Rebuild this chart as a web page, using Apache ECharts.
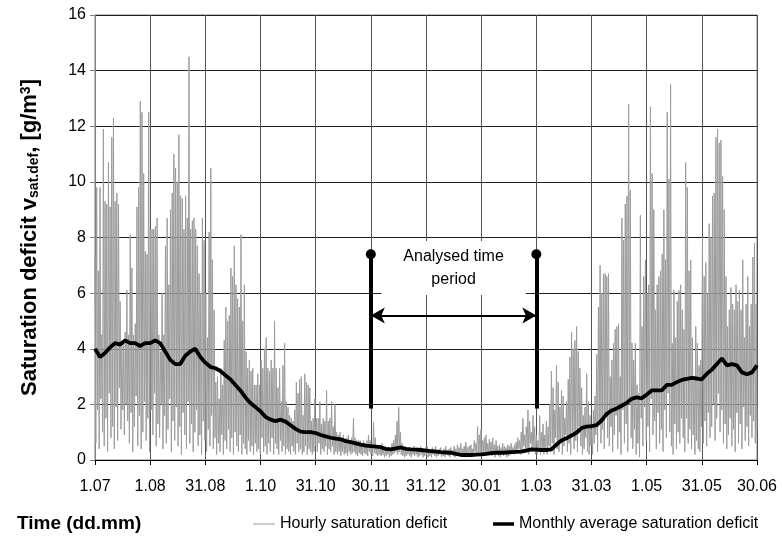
<!DOCTYPE html>
<html><head><meta charset="utf-8">
<script src="https://cdn.jsdelivr.net/npm/echarts@6/dist/echarts.min.js"></script>
<style>html,body{margin:0;padding:0;background:#fff}#c{width:782px;height:538px}</style>
</head><body><div id="c"></div>
<script>
// x tick labels (one per month, evenly spaced)
const tickLabels = ['1.07','1.08','31.08','1.10','31.10','30.11','31.12','30.01','1.03','31.03','1.05','31.05','30.06'];

// daily peaks of the hourly saturation deficit (g/m3)
const hourlyPeaks = [
 7.4,9.8,6.8,9.8,4.5,11.9,9.3,9.2,10.7,9.1,
 11.6,12.3,9.3,9.6,9.2,5.7,4.2,4.3,4.6,6.1,
 4.5,8.1,6.9,4.5,4.9,9.1,9.8,12.9,12.5,10.3,
 7.5,7.4,12.5,8.3,8.3,8.3,8.4,8.7,4.5,3.9,
 6.0,4.5,7.7,8.7,6.3,9.0,9.6,11.0,10.5,10.0,
 11.7,9.5,9.4,8.3,9.5,8.7,14.5,8.3,8.6,8.7,
 8.3,7.7,6.7,6.0,8.7,7.9,6.0,4.4,8.2,10.5,
 7.2,5.4,2.8,3.0,2.2,3.3,2.7,4.3,5.5,5.0,
 5.2,6.9,6.6,7.7,6.3,5.8,5.5,8.1,5.0,6.3,
 3.9,3.3,3.6,3.2,3.3,2.7,2.7,3.1,2.7,3.6,
 3.3,4.0,4.4,3.3,
 3.2,3.6,3.3,5.0,3.3,2.6,3.3,2.1,3.4,4.2,2.1,1.9,1.6,1.5,1.4,1.8,2.8,2.4,2.9,3.0,1.6,3.1,2.8,2.7,2.6,1.4,1.5,
 2.2,1.5,1.5,2.1,1.3,1.5,1.4,2.5,1.4,1.5,
 2.1,1.2,2.0,1.0,0.9,1.0,0.8,0.9,0.7,0.8,
 0.9,0.7,0.8,1.5,0.8,0.7,0.7,0.7,0.6,0.7,
 0.6,0.7,0.9,0.7,0.6,1.35,0.8,0.45,0.45,0.4,
 0.6,0.35,0.45,0.4,0.45,0.45,0.6,0.7,0.9,1.4,
 1.9,1.0,0.6,0.4,0.35,
 0.4,0.45,0.35,0.4,0.5,0.4,
 0.45,0.4,0.5,0.35,0.4,0.45,0.5,0.4,0.35,0.45,0.4,0.5,
 0.35,0.4,0.45,0.3,0.4,0.5,0.35,0.4,0.45,0.35,0.5,0.4,
 0.55,0.45,0.6,0.4,0.5,0.65,0.45,0.5,0.55,0.4,0.7,0.6,
 1.2,0.9,1.1,0.7,0.8,0.9,0.6,0.75,0.65,0.8,0.55,0.7,
 0.5,0.55,0.45,0.6,0.5,0.45,0.55,0.5,0.6,0.45,0.55,0.65,
 0.8,0.7,1.0,1.5,0.9,1.2,1.8,1.4,1.0,1.6,1.2,
 0.9,0.7,1.6,1.0,1.3,0.9,1.4,1.2,2.0,3.2,2.6,1.8,3.4,2.8,1.9,2.5,2.3,1.5,2.1,2.9,
 3.7,4.6,4.0,4.3,4.8,3.9,3.3,2.6,1.6,1.9,3.1,2.1,1.6,1.1,1.8,2.3,3.8,5.5,7.0,6.0,6.7,6.7,6.6,
 6.7,3.0,3.6,4.2,4.7,4.8,4.9,3.0,8.7,7.9,
 9.2,9.5,12.8,9.7,4.2,3.6,4.2,2.7,2.4,8.8,
 4.8,6.6,7.2,6.0,6.3,12.7,10.3,9.0,5.4,6.3,
 6.6,6.8,7.4,9.0,7.2,12.5,10.1,13.5,4.2,6.1,
 4.4,5.7,6.1,6.3,
 5.4,4.7,10.7,9.8,6.8,7.2,4.4,3.0,4.8,4.2,
 3.4,3.6,8.0,6.6,7.1,6.0,8.5,8.0,9.5,9.6,
 11.6,11.9,11.4,11.5,10.2,9.0,6.6,4.8,5.4,6.2,
 5.6,5.4,6.3,5.7,6.1,5.4,7.2,4.4,5.6,6.6,
 4.8,5.6,7.3,7.8,5.6
];

// nightly minima of the hourly saturation deficit (g/m3)
const hourlyTroughs = [
 0.6,1.8,0.4,2.2,1.0,0.5,1.5,0.3,2.4,0.8,
 1.2,0.4,1.9,0.7,2.6,1.1,1.8,0.9,2.0,1.4,
 0.6,1.7,0.3,1.2,2.3,0.5,1.6,0.4,1.0,2.1,
 0.7,1.5,0.3,1.8,0.9,2.4,0.5,1.3,0.8,2.0,
 0.4,1.6,0.6,1.1,2.2,0.3,1.4,0.7,1.9,0.5,
 1.2,0.2,1.7,0.9,0.4,2.1,0.6,1.3,0.3,1.0,
 1.8,0.5,0.9,0.2,1.4,0.7,0.3,1.1,0.5,1.6,
 0.4,0.8,0.2,0.6,0.3,0.9,0.2,0.7,0.4,1.1,
 0.3,0.8,0.2,1.0,0.5,0.3,0.9,0.2,0.6,0.4,
 0.2,0.7,0.3,0.5,0.2,0.6,0.3,0.4,0.2,0.8,
 0.3,0.5,0.2,0.6,
 0.3,0.8,0.2,0.6,0.4,0.2,0.7,0.3,0.5,0.2,0.4,0.3,0.2,0.5,0.3,0.2,0.6,0.3,0.4,0.2,0.3,0.5,0.2,0.4,0.3,0.2,0.3,
 0.5,0.3,0.6,0.2,0.4,0.3,0.5,0.2,0.4,0.3,
 0.5,0.2,0.3,0.2,0.3,0.15,0.3,0.2,0.25,0.15,
 0.3,0.2,0.25,0.3,0.2,0.15,0.25,0.2,0.15,0.25,
 0.2,0.15,0.3,0.2,0.15,0.25,0.2,0.15,0.2,0.15,
 0.2,0.1,0.15,0.2,0.1,0.15,0.2,0.25,0.3,0.2,
 0.3,0.2,0.15,0.1,0.15,
 0.2,0.15,0.1,0.2,0.15,0.2,0.1,0.15,0.2,0.1,
 0.15,0.2,0.1,0.15,0.1,0.2,0.15,0.1,0.15,0.2,
 0.1,0.15,0.1,0.2,0.15,0.1,0.2,0.15,0.1,0.15,
 0.2,0.25,0.15,0.2,0.1,0.2,0.15,0.25,0.2,0.15,
 0.3,0.2,0.25,0.15,0.2,0.3,0.15,0.2,0.25,0.2,
 0.15,0.2,0.1,0.2,0.15,0.1,0.2,0.15,0.2,0.1,
 0.15,0.2,0.3,0.2,0.35,0.25,0.4,0.2,0.3,0.5,
 0.3,0.4,0.2,0.6,0.3,0.4,0.2,
 0.2,0.3,0.2,0.4,0.2,0.3,0.2,0.5,0.3,0.6,0.2,0.8,0.4,0.3,0.7,0.2,0.5,0.9,0.3,0.6,
 0.2,1.0,0.4,0.7,0.3,1.2,0.5,0.2,0.4,0.8,0.3,0.2,0.5,0.2,0.6,0.9,0.3,1.4,0.6,1.1,0.4,1.6,0.8,
 0.5,1.2,0.3,0.9,1.6,0.4,1.0,0.2,1.8,0.6,
 1.3,0.3,2.0,0.8,0.4,1.1,0.2,0.6,0.1,1.5,
 0.5,1.9,0.7,1.2,0.3,2.2,0.9,1.4,0.4,1.7,
 0.6,1.1,0.3,1.8,0.8,2.4,1.0,0.5,0.2,1.3,
 0.4,1.0,0.6,1.5,
 0.8,0.3,1.5,0.6,1.1,0.4,0.9,0.2,0.7,0.4,
 0.3,1.2,0.6,1.4,0.5,1.7,0.8,1.2,2.0,0.7,
 1.5,2.4,1.0,1.8,0.6,1.3,0.4,0.9,1.5,0.5,
 1.1,0.3,1.7,0.6,1.3,0.4,1.9,0.7,1.2,0.5,
 1.6,0.8,1.4,0.6,1.1
];

// monthly (moving) average saturation deficit, evenly spaced from 1.07 to 30.06
const monthlyAverage = [
 4.0,3.7,3.85,4.05,4.2,4.15,4.3,4.2,4.2,4.1,
 4.2,4.2,4.3,4.2,3.9,3.6,3.45,3.45,3.75,3.9,
 4.0,3.7,3.5,3.35,3.3,3.2,3.05,2.9,2.7,2.5,
 2.25,2.05,1.9,1.75,1.55,1.45,1.4,1.45,1.38,1.25,
 1.12,1.02,1.0,1.0,0.97,0.9,0.85,0.8,0.77,0.74,
 0.68,0.64,0.6,0.55,0.52,0.5,0.48,0.46,0.4,0.38,
 0.42,0.45,0.4,0.38,0.37,0.36,0.34,0.32,0.3,0.28,
 0.27,0.26,0.22,0.18,0.18,0.18,0.19,0.2,0.22,0.25,
 0.26,0.26,0.27,0.28,0.29,0.3,0.34,0.38,0.37,0.36,
 0.36,0.38,0.55,0.7,0.78,0.88,0.98,1.15,1.2,1.22,
 1.25,1.42,1.65,1.78,1.85,1.95,2.05,2.2,2.25,2.22,
 2.35,2.5,2.5,2.5,2.7,2.7,2.8,2.88,2.92,2.95,
 2.93,2.9,3.1,3.25,3.45,3.65,3.4,3.45,3.4,3.15,
 3.08,3.15,3.4
];

// annotation: analysed period (tick index of 30.11 and 1.03) and its marker levels
const analysedPeriod = [5, 8];
const markerLevels = { bottom: 1.85, top: 7.4, arrow: 5.2, text: 6.9 };

const FONT = 'Liberation Sans, Arial, Helvetica, sans-serif';

const hourly = [];
hourlyPeaks.forEach((p, i) => { hourly.push(p, hourlyTroughs[i]); });

const legendText = { fontSize: 16, color: '#000', fontFamily: FONT };

const chart = echarts.init(document.getElementById('c'), null, { renderer: 'canvas' });
chart.setOption({
  animation: false,
  backgroundColor: '#fff',
  textStyle: { fontFamily: FONT },
  title: {
    text: 'Time (dd.mm)', left: 12, top: 509,
    textStyle: { fontSize: 19, fontWeight: 'bold', color: '#000', fontFamily: FONT }
  },
  legend: [
    {
      left: 248, top: 511, itemWidth: 22, itemHeight: 1, icon: 'rect',
      textStyle: legendText,
      data: [{ name: 'Hourly saturation deficit', itemStyle: { color: '#999' } }]
    },
    {
      left: 488, top: 511, itemWidth: 21, itemHeight: 3.5, icon: 'rect',
      textStyle: legendText,
      data: [{ name: 'Monthly average saturation deficit', itemStyle: { color: '#000' } }]
    }
  ],
  grid: { left: 95, right: 25, top: 15, bottom: 78, show: true, borderColor: '#808080', borderWidth: 1 },
  xAxis: [
    {
      type: 'value', min: 0, max: tickLabels.length - 1, interval: 1,
      axisLine: { lineStyle: { color: '#000', width: 1 } },
      axisTick: { show: true, length: 5, lineStyle: { color: '#000' } },
      axisLabel: { formatter: v => tickLabels[v], fontSize: 16, color: '#000', margin: 19, fontFamily: FONT },
      splitLine: { show: true, lineStyle: { color: '#555', width: 1 } }
    },
    { type: 'category', show: false, boundaryGap: false, data: hourly.map((_, i) => i) },
    { type: 'category', show: false, boundaryGap: false, data: monthlyAverage.map((_, i) => i) }
  ],
  yAxis: {
    type: 'value', min: 0, max: 16, interval: 2,
    name: 'Saturation deficit v{sub|sat.def}, [g/m{sup|3}]',
    nameLocation: 'middle', nameRotate: 90, nameGap: 54,
    nameTextStyle: {
      fontSize: 22, fontWeight: 'bold', color: '#000', fontFamily: FONT,
      rich: {
        sub: { fontSize: 14, fontWeight: 'bold', color: '#000', fontFamily: FONT, verticalAlign: 'bottom', lineHeight: 22, padding: [9, 0, 0, 0] },
        sup: { fontSize: 14, fontWeight: 'bold', color: '#000', fontFamily: FONT, verticalAlign: 'top', lineHeight: 22, padding: [0, 0, 9, 0] }
      }
    },
    axisLine: { show: true, lineStyle: { color: '#808080' } },
    axisTick: { show: true, length: 5, lineStyle: { color: '#808080' } },
    axisLabel: { fontSize: 16, color: '#000', margin: 9, fontFamily: FONT },
    splitLine: { show: true, lineStyle: { color: '#222', width: 1 } }
  },
  series: [
    {
      name: 'Hourly saturation deficit', type: 'line', xAxisIndex: 1, data: hourly,
      symbol: 'none', showSymbol: false, sampling: 'none', z: 2,
      lineStyle: { color: '#9c9c9c', width: 1 }, itemStyle: { color: '#9c9c9c' }
    },
    {
      name: 'Monthly average saturation deficit', type: 'line', xAxisIndex: 2, data: monthlyAverage,
      symbol: 'none', showSymbol: false, z: 3,
      lineStyle: { color: '#000', width: 3.8 }, itemStyle: { color: '#000' }
    },
    {
      type: 'line', xAxisIndex: 0, data: [], symbol: 'none', z: 5,
      markLine: {
        silent: true, animation: false, symbol: ['none', 'none'],
        label: { show: false },
        data: [
          [{ coord: [analysedPeriod[0], markerLevels.bottom], symbol: 'none', lineStyle: { color: '#000', width: 4, type: 'solid' } },
           { coord: [analysedPeriod[0], markerLevels.top], symbol: 'circle', symbolSize: 10 }],
          [{ coord: [analysedPeriod[1], markerLevels.bottom], symbol: 'none', lineStyle: { color: '#000', width: 4, type: 'solid' } },
           { coord: [analysedPeriod[1], markerLevels.top], symbol: 'circle', symbolSize: 10 }],
          [{ coord: [analysedPeriod[0], markerLevels.arrow], symbol: 'arrow', symbolSize: [12, 14], lineStyle: { color: '#000', width: 2, type: 'solid' } },
           { coord: [analysedPeriod[1], markerLevels.arrow], symbol: 'arrow', symbolSize: [12, 14] }]
        ]
      },
      markPoint: {
        silent: true, symbol: 'rect', symbolSize: 1, itemStyle: { color: 'rgba(0,0,0,0)' },
        data: [{
          coord: [(analysedPeriod[0] + analysedPeriod[1]) / 2, markerLevels.text],
          label: {
            show: true, position: 'inside', formatter: 'Analysed time\nperiod',
            fontSize: 16, lineHeight: 23, color: '#000', fontFamily: FONT,
            backgroundColor: '#fff', padding: [4, 22, 4, 22], align: 'center'
          }
        }]
      }
    }
  ]
});
</script>
</body></html>
